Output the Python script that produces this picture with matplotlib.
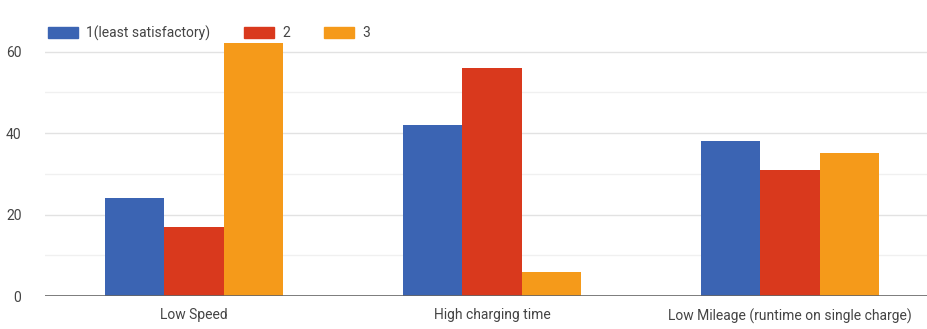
import matplotlib.pyplot as plt
import numpy as np
from matplotlib.patches import Patch

# Survey responses per issue, by satisfaction rating
issues = ["Low Speed", "High charging time", "Low Mileage (runtime on single charge)"]
rating_1 = [24, 42, 38]
rating_2 = [17, 56, 31]
rating_3 = [62, 6, 35]
series_names = ["1(least satisfactory)", "2", "3"]
colors = ["#3b64b3", "#d9391d", "#f59a1a"]

plt.rcParams["font.family"] = ["Roboto", "DejaVu Sans"]

fig = plt.figure(figsize=(9.27, 3.29), dpi=100)
ax = fig.add_axes([45 / 927, 33 / 329, 894 / 927, 277 / 329])

x = np.arange(len(issues))
width = 0.2
for i, vals in enumerate([rating_1, rating_2, rating_3]):
    ax.bar(x + (i - 1) * width, vals, width, color=colors[i], zorder=3)

ax.set_xlim(-0.5, 2.5)
ax.set_ylim(0, 68)

# light grid every 10, labels every 20
for y in [10, 30, 50]:
    ax.axhline(y, color="#f0f0f0", lw=1, zorder=1)
for y in [20, 40, 60]:
    ax.axhline(y, color="#e2e2e2", lw=1, zorder=1)
ax.axhline(0, color="#666666", lw=1.2, zorder=4)

ax.set_yticks([0, 20, 40, 60])
ax.set_xticks(x)
ax.set_xticklabels(issues)
ax.tick_params(axis="both", length=0, colors="#444444", labelsize=10)
ax.tick_params(axis="y", pad=17)
ax.tick_params(axis="x", pad=9)
for s in ax.spines.values():
    s.set_visible(False)

handles = [Patch(color=c) for c in colors]
fig.legend(handles, series_names, loc="upper left",
           bbox_to_anchor=(42 / 927, 1 - 20 / 329), ncol=3, frameon=False,
           fontsize=10, labelcolor="#444444", handlelength=2.2, handleheight=0.8,
           handletextpad=0.6, columnspacing=2.4, borderaxespad=0)

fig.savefig("out.png", dpi=100)
